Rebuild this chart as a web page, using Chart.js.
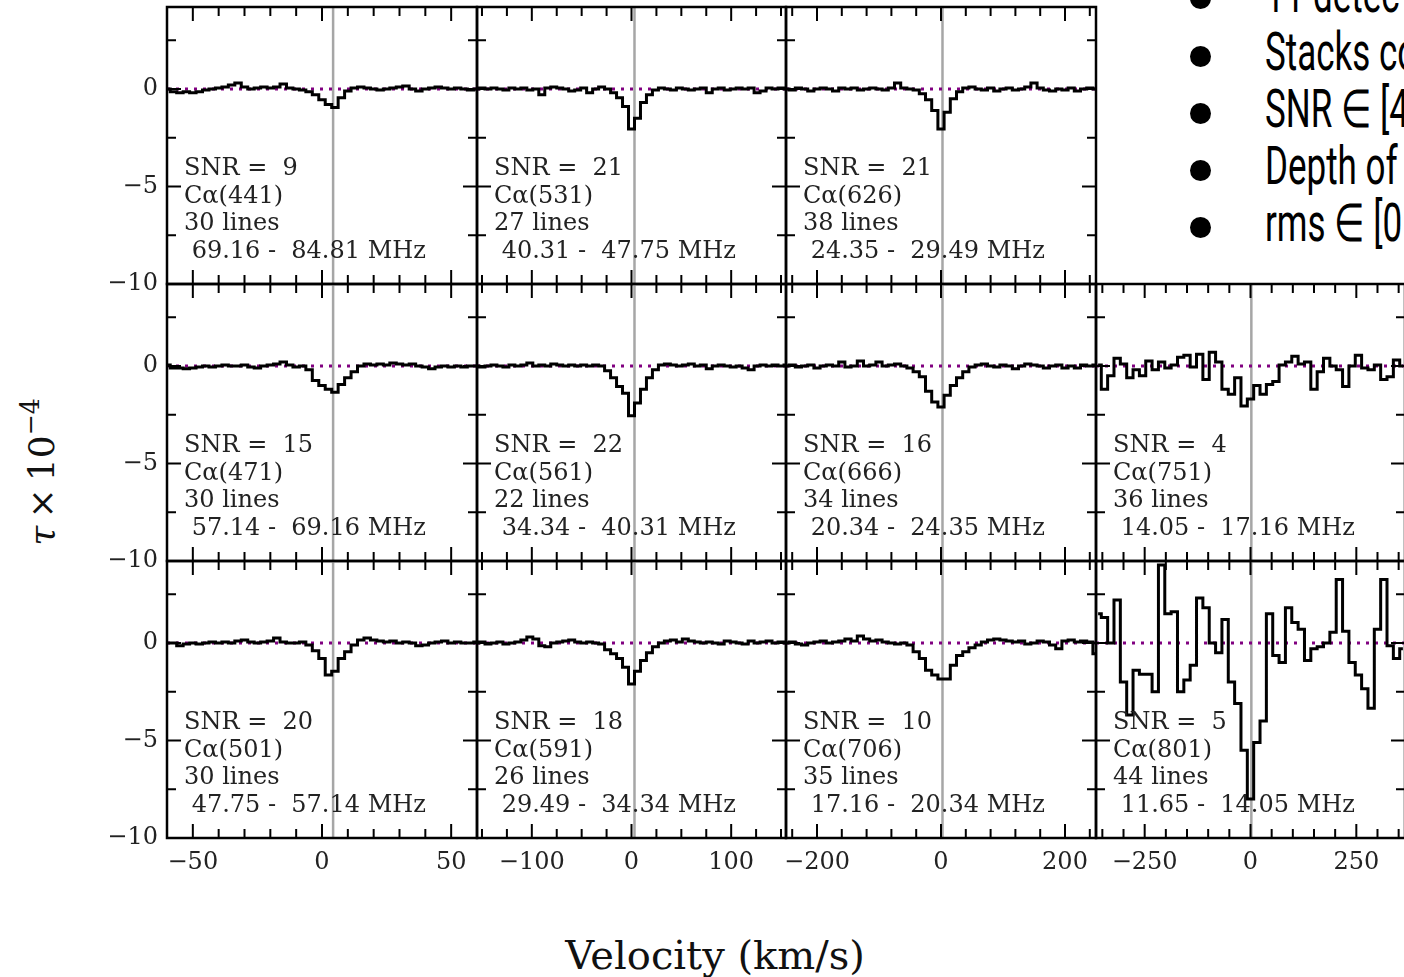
<!DOCTYPE html>
<html>
<head>
<meta charset="utf-8">
<script src="https://cdn.jsdelivr.net/npm/chart.js@4.4.1/dist/chart.umd.min.js"></script>
<style>
  html, body { margin: 0; padding: 0; background: #fff; overflow: hidden; width: 1404px; height: 977px; }
  #fig { position: relative; width: 1404px; height: 977px; overflow: hidden; }
  #fig canvas { position: absolute; }
  .ylab { position: absolute; left: 42px; top: 472px; transform: translate(-50%, -50%) rotate(-90deg);
          font: 36px/1 "DejaVu Serif"; white-space: nowrap; color: #111; }
  .ylab sup { font-size: 0.7em; vertical-align: 0.6em; line-height: 0; }
  .xlab { position: absolute; left: 715px; top: 935px; transform: translateX(-50%);
          font: 40px/1 "DejaVu Serif"; white-space: nowrap; color: #111; }
  .note { position: absolute; left: 1190px; height: 53px; width: 300px; }
  .note .dot { position: absolute; left: 0; top: 20px; width: 21px; height: 21px; border-radius: 50%; background: #000; }
  .note .txt { position: absolute; left: 75px; top: 0; font: 53px/1 Roboto; white-space: nowrap;
               transform: scaleX(0.66); transform-origin: left top; color: #000; }
</style>
</head>
<body>
<div id="fig">
  <div class="ylab"><i>τ</i>&#8201;×&#8201;10<sup>−4</sup></div>
  <div class="xlab">Velocity (km/s)</div>
</div>
<script>
// --- panel info (row-major, as in the figure) ---
const panelRow = [0, 0, 0, 1, 1, 1, 1, 2, 2, 2, 2];
const panelCol = [0, 1, 2, 0, 1, 2, 3, 0, 1, 2, 3];
const snr = [9, 21, 21, 15, 22, 16, 4, 20, 18, 10, 5];
const transition = [441, 531, 626, 471, 561, 666, 751, 501, 591, 706, 801];
const nLines = [30, 27, 38, 30, 22, 34, 36, 30, 26, 35, 44];
const freqLo = ['69.16', '40.31', '24.35', '57.14', '34.34', '20.34', '14.05', '47.75', '29.49', '17.16', '11.65'];
const freqHi = ['84.81', '47.75', '29.49', '69.16', '40.31', '24.35', '17.16', '57.14', '34.34', '20.34', '14.05'];

// velocity axis per column
const xSpan = [60, 155, 250, 365];
const xMajor = [[-50, 0, 50], [-100, 0, 100], [-200, 0, 200], [-250, 0, 250]];
const xMinorStep = [10, 25, 40, 50];
const markerVel = [4.3, 3, 2.4, 2];
const yMin = -10, yMax = 4.2;
const yMajor = [-10, -5, 0];
const yMinorStep = 2.5;

// channel velocities (km/s)
const vel1 = [-60, -57.5, -55, -52.5, -50, -47.5, -45, -42.5, -40, -37.5, -35, -32.5, -30, -27.5, -25, -22.5, -20, -17.5, -15, -12.5,
  -10, -7.5, -5, -2.5, 0, 2.5, 5, 7.5, 10, 12.5, 15, 17.5, 20, 22.5, 25, 27.5, 30, 32.5, 35, 37.5, 40, 42.5, 45, 47.5, 50, 52.5, 55, 57.5, 60];
const vel2 = [-156, -150, -144, -138, -132, -126, -120, -114, -108, -102, -96, -90, -84, -78, -72, -66, -60, -54, -48, -42, -36, -30, -24, -18, -12, -6,
  0, 6, 12, 18, 24, 30, 36, 42, 48, 54, 60, 66, 72, 78, 84, 90, 96, 102, 108, 114, 120, 126, 132, 138, 144, 150, 156];
const vel3 = [-250, -240, -230, -220, -210, -200, -190, -180, -170, -160, -150, -140, -130, -120, -110, -100, -90, -80, -70, -60, -50, -40, -30, -20, -10,
  0, 10, 20, 30, 40, 50, 60, 70, 80, 90, 100, 110, 120, 130, 140, 150, 160, 170, 180, 190, 200, 210, 220, 230, 240, 250];
const vel4 = [-360, -345, -330, -315, -300, -285, -270, -255, -240, -225, -210, -195, -180, -165, -150, -135, -120, -105, -90, -75, -60, -45, -30, -15,
  0, 15, 30, 45, 60, 75, 90, 105, 120, 135, 150, 165, 180, 195, 210, 225, 240, 255, 270, 285, 300, 315, 330, 345, 360];
const velCol = [vel1, vel2, vel3, vel4];

// stacked optical depth (x1e-4)
const tau441 = [0.0, -0.15, -0.2, -0.15, -0.2, -0.15, -0.05, 0.0, 0.05, 0.1,
  0.2, 0.3, 0.1, 0.0, 0.05, 0.1, 0.05, 0.1, 0.25, 0.05,
  0.0, -0.05, -0.15, -0.3, -0.55, -0.8, -0.95, -0.45, -0.1, 0.05,
  0.1, 0.05, 0.0, -0.05, 0.0, 0.05, 0.1, 0.15, 0.0, -0.1,
  0.0, 0.05, 0.1, 0.05, 0.0, 0.05, 0.0, -0.05, 0.0];
const tau531 = [0.0, 0.05, 0.0, 0.05, 0.0, -0.05, 0.05, 0.0, 0.05, -0.05,
  0.0, -0.3, 0.05, 0.1, 0.05, 0.0, -0.1, -0.05, 0.05, -0.2,
  0.0, 0.1, 0.0, -0.2, -0.45, -0.9, -2.05, -1.5, -0.7, -0.3,
  -0.05, 0.05, 0.0, -0.05, 0.05, 0.0, -0.05, 0.0, 0.05, -0.2,
  0.0, 0.05, -0.05, 0.0, 0.05, 0.0, 0.05, -0.2, -0.1, 0.05,
  0.0, 0.05, 0.0];
const tau626 = [0.0, -0.05, 0.05, 0.0, -0.1, 0.0, 0.05, 0.0, -0.1, 0.05,
  0.0, 0.05, -0.05, 0.0, 0.05, 0.0, -0.05, 0.05, 0.3, 0.05,
  0.0, -0.05, -0.25, -0.55, -1.1, -2.05, -1.2, -0.5, -0.15, 0.05,
  0.1, 0.0, -0.05, 0.05, -0.1, 0.0, 0.05, -0.05, 0.0, 0.1,
  0.3, 0.05, -0.05, -0.1, 0.0, -0.05, 0.05, -0.1, 0.0, 0.05,
  0.0];
const tau471 = [0.05, -0.1, -0.1, -0.15, -0.1, -0.05, 0.0, -0.05, 0.0, 0.05,
  0.0, 0.0, 0.05, -0.05, -0.1, 0.0, 0.05, 0.1, 0.2, 0.05,
  -0.05, 0.0, -0.2, -0.75, -1.0, -1.2, -1.35, -0.95, -0.6, -0.3,
  0.0, 0.1, 0.05, 0.1, 0.05, 0.15, 0.1, 0.05, 0.1, 0.0,
  -0.05, -0.15, -0.05, 0.0, -0.05, 0.0, -0.05, 0.0, 0.0];
const tau561 = [0.0, -0.05, 0.0, 0.05, 0.0, -0.05, 0.05, 0.0, 0.05, 0.15,
  0.0, 0.05, 0.0, 0.1, 0.05, 0.0, 0.05, 0.0, 0.05, 0.0,
  0.05, 0.0, -0.25, -0.6, -1.05, -1.4, -2.55, -1.9, -1.2, -0.6,
  -0.2, 0.05, 0.1, 0.05, 0.0, 0.05, 0.1, 0.0, 0.05, -0.15,
  0.0, 0.05, 0.0, -0.05, 0.0, -0.1, -0.2, 0.0, 0.05, 0.0,
  0.05, 0.0, 0.05];
const tau666 = [0.0, 0.05, -0.05, 0.0, 0.05, -0.1, 0.0, 0.05, 0.0, 0.2,
  -0.05, 0.0, 0.25, 0.0, 0.05, 0.2, 0.0, 0.05, 0.1, 0.0,
  -0.1, -0.3, -0.55, -1.3, -1.85, -2.1, -1.5, -1.0, -0.6, -0.3,
  -0.05, 0.05, 0.1, 0.0, -0.05, 0.05, 0.0, -0.15, 0.0, 0.1,
  0.05, 0.0, -0.1, 0.0, 0.05, -0.1, 0.0, -0.1, 0.05, 0.0,
  0.05];
const tau751 = [0.05, -1.2, -0.5, 0.4, 0.1, -0.6, -0.2, -0.5, 0.25, -0.2,
  0.2, -0.1, 0.05, 0.45, 0.55, -0.05, 0.6, -0.7, 0.7, 0.2,
  -1.2, -1.45, -0.6, -2.05, -1.7, -1.0, -1.45, -0.95, -0.8, 0.05,
  0.2, 0.5, 0.1, 0.2, -1.2, -0.3, 0.4, 0.0, -0.2, -1.05,
  0.0, 0.55, -0.1, -0.2, 0.05, -0.7, -0.55, 0.3, 0.0];
const tau501 = [0.0, 0.0, -0.15, -0.05, 0.0, -0.05, 0.0, 0.05, 0.0, 0.05,
  0.0, 0.1, 0.15, 0.05, 0.0, 0.05, 0.1, 0.25, 0.05, 0.0,
  0.0, 0.05, -0.1, -0.4, -0.8, -1.65, -1.45, -0.8, -0.45, -0.1,
  0.15, 0.25, 0.15, 0.1, 0.05, 0.1, 0.0, 0.05, 0.0, -0.15,
  -0.1, 0.0, 0.05, 0.1, 0.0, 0.05, 0.0, 0.0, 0.05];
const tau591 = [0.0, 0.05, -0.05, 0.0, 0.05, -0.05, 0.0, 0.05, 0.15, 0.3,
  0.2, -0.15, -0.2, 0.0, 0.05, 0.1, 0.15, 0.05, 0.0, 0.05,
  0.0, -0.05, -0.35, -0.55, -0.8, -1.25, -2.1, -1.45, -0.9, -0.5,
  -0.2, 0.0, 0.1, 0.15, 0.05, 0.2, 0.1, 0.05, 0.0, 0.05,
  0.0, -0.05, 0.1, 0.05, 0.0, -0.05, 0.1, 0.0, 0.05, 0.1,
  0.0, 0.05, 0.0];
const tau706 = [0.0, 0.05, -0.05, -0.1, 0.0, 0.05, 0.1, 0.0, 0.05, 0.1,
  0.2, 0.1, 0.35, 0.2, 0.1, 0.15, 0.05, 0.0, -0.05, 0.0,
  -0.1, -0.45, -0.8, -1.4, -1.65, -1.85, -1.85, -1.15, -0.65, -0.45,
  -0.25, -0.1, 0.05, 0.15, 0.2, 0.15, 0.1, 0.05, 0.1, -0.05,
  0.0, 0.1, 0.05, -0.1, -0.3, 0.1, 0.15, 0.05, 0.1, 0.05,
  -0.55];
const tau801 = [1.5, 1.3, 0.0, 2.2, -2.0, -3.7, -1.4, -1.6, -1.6, -2.5,
  4.0, 1.5, 1.6, -2.5, -1.9, -1.15, 2.3, 1.8, 0.0, -0.5,
  1.2, -2.0, -3.1, -5.5, -8.0, -5.1, -4.0, 1.5, -0.65, -1.0,
  1.8, 1.05, 0.7, -0.9, -0.3, -0.2, 0.0, 0.55, 3.25, 0.6,
  -1.0, -1.65, -2.35, -3.35, 0.7, 3.25, -0.15, -0.8, -0.3];
const taus = [tau441, tau531, tau626, tau471, tau561, tau666, tau751, tau501, tau591, tau706, tau801];

// notes on the right
const notes = ['11 detec', 'Stacks co', 'SNR ∈ [4', 'Depth of', 'rms ∈ [0'];
const noteTop = [-32, 26, 83, 140, 197];

// --- layout ---
const colLeft = [167, 477, 786, 1096];
const colWidth = [310, 309, 310, 309];
const rowTop = [7, 284, 561];
const rowHeight = 277;
const PADL = 90, PADR = 12, PADT = 12, PADB = 50;
const SERIF = 'DejaVu Serif';

const fig = document.getElementById('fig');

function fmt(v) {
  return v < 0 ? '\u2212' + Math.abs(v) : String(v);
}

function onStep(v, step) {
  return Math.abs(v / step - Math.round(v / step)) < 1e-6;
}

function tickList(min, max, step) {
  const out = [];
  for (let v = Math.ceil(min / step) * step; v <= max + 1e-9; v += step) out.push({ value: Math.round(v * 1000) / 1000 });
  return out;
}

function makeDecor(k) {
  const c = panelCol[k];
  const text = [
    'SNR =  ' + snr[k],
    'Cα(' + transition[k] + ')',
    nLines[k] + ' lines',
    ' ' + freqLo[k] + ' -  ' + freqHi[k] + ' MHz'
  ];
  return {
    id: 'panelDecor',
    afterDatasetsDraw(chart) {
      const { ctx, chartArea: a } = chart;
      const x = chart.scales.x, y = chart.scales.y;
      ctx.save();
      ctx.strokeStyle = '#000';
      ctx.lineWidth = 2;
      ctx.beginPath();
      x.ticks.forEach(t => {
        if (!onStep(t.value, xMinorStep[c])) return;
        const p = x.getPixelForValue(t.value);
        const len = xMajor[c].includes(t.value) ? 14 : 9;
        ctx.moveTo(p, a.bottom); ctx.lineTo(p, a.bottom - len);
        ctx.moveTo(p, a.top); ctx.lineTo(p, a.top + len);
      });
      y.ticks.forEach(t => {
        if (!onStep(t.value, yMinorStep)) return;
        const p = y.getPixelForValue(t.value);
        const len = yMajor.includes(t.value) ? 14 : 9;
        ctx.moveTo(a.left, p); ctx.lineTo(a.left + len, p);
        ctx.moveTo(a.right, p); ctx.lineTo(a.right - len, p);
      });
      ctx.stroke();
      ctx.lineWidth = 2.5;
      ctx.strokeRect(a.left, a.top, a.right - a.left, a.bottom - a.top);

      ctx.fillStyle = '#222';
      ctx.font = '24px "' + SERIF + '"';
      ctx.textAlign = 'left';
      ctx.textBaseline = 'alphabetic';
      text.forEach((s, i) => ctx.fillText(s, a.left + 17, a.top + 168 + i * 27.5));
      ctx.restore();
    }
  };
}

function buildPanel(k) {
  const r = panelRow[k], c = panelCol[k];
  const w = colWidth[c] + PADL + PADR, h = rowHeight + PADT + PADB;
  const canvas = document.createElement('canvas');
  canvas.width = w; canvas.height = h;
  canvas.style.width = w + 'px'; canvas.style.height = h + 'px';
  canvas.style.left = (colLeft[c] - PADL) + 'px';
  canvas.style.top = (rowTop[r] - PADT) + 'px';
  fig.appendChild(canvas);

  const vel = velCol[c], tau = taus[k];
  const showX = r === 2, showY = c === 0;
  const tickFont = { family: SERIF, size: 24 };

  new Chart(canvas, {
    type: 'line',
    data: {
      datasets: [
        {
          data: vel.map((v, i) => ({ x: v, y: tau[i] })),
          stepped: 'middle',
          borderColor: '#000',
          borderWidth: 3,
          pointRadius: 0
        },
        {
          data: [{ x: -xSpan[c], y: 0 }, { x: xSpan[c], y: 0 }],
          borderColor: '#800080',
          borderWidth: 3,
          borderDash: [3, 6],
          pointRadius: 0
        },
        {
          data: [{ x: markerVel[c], y: yMin }, { x: markerVel[c], y: yMax }],
          borderColor: '#a6a6a6',
          borderWidth: 2.5,
          pointRadius: 0
        }
      ]
    },
    options: {
      responsive: false,
      animation: false,
      events: [],
      devicePixelRatio: 1,
      layout: { padding: { left: 0, right: PADR, top: PADT, bottom: 0 } },
      plugins: { legend: { display: false }, tooltip: { enabled: false } },
      scales: {
        x: {
          type: 'linear',
          min: -xSpan[c],
          max: xSpan[c],
          afterBuildTicks: s => { s.ticks = tickList(-xSpan[c], xSpan[c], xMinorStep[c]); },
          afterFit: s => { s.height = PADB; s.paddingLeft = 0; s.paddingRight = 0; },
          grid: { display: false, drawTicks: false },
          border: { display: false },
          ticks: {
            autoSkip: false,
            maxRotation: 0,
            padding: 10,
            color: '#222',
            font: tickFont,
            callback: v => (showX && xMajor[c].includes(v)) ? fmt(v) : ''
          }
        },
        y: {
          type: 'linear',
          min: yMin,
          max: yMax,
          afterBuildTicks: s => { s.ticks = tickList(yMin, yMax, yMinorStep); },
          afterFit: s => { s.width = PADL; s.paddingTop = 0; s.paddingBottom = 0; },
          grid: { display: false, drawTicks: false },
          border: { display: false },
          ticks: {
            autoSkip: false,
            padding: 9,
            color: '#222',
            font: tickFont,
            callback: v => (showY && yMajor.includes(v)) ? fmt(v) : ''
          }
        }
      }
    },
    plugins: [makeDecor(k)]
  });
}

panelRow.forEach((_, k) => buildPanel(k));

notes.forEach((s, i) => {
  const d = document.createElement('div');
  d.className = 'note';
  d.style.top = noteTop[i] + 'px';
  d.innerHTML = '<span class="dot"></span>';
  const t = document.createElement('span');
  t.className = 'txt';
  t.textContent = s;
  d.appendChild(t);
  fig.appendChild(d);
});
</script>
</body>
</html>
